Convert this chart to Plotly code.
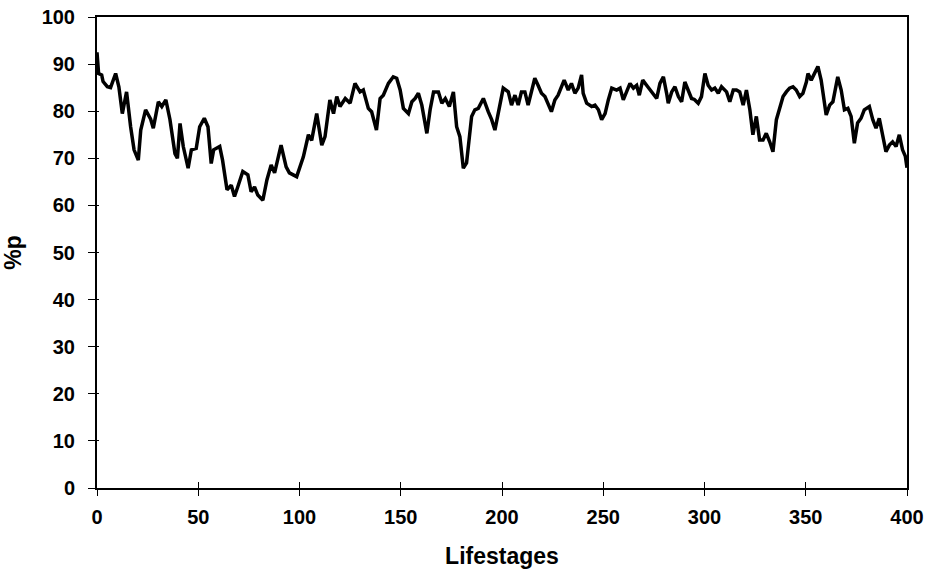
import plotly.graph_objects as go

lifestage = [0,0.8,2.3,3,5.1,6.7,9.2,10.8,12.5,14.6,16.6,18.3,20.4,21.6,24,25.7,26.5,27.8,30.3,32,34,36,38.5,39.7,41,42.6,45,46.6,49,50.7,53,54.8,56.4,57.6,60.6,62,64.2,66.3,67.9,69.5,72,74.5,76.1,77.8,79.4,81.9,83.9,86,87.7,90.9,93.4,95,98.6,101.9,104.4,106,108.5,111,112.6,115,116.8,118.4,120,122.6,125,127.4,129.9,131.5,134,135.6,138,139.8,141.4,143.9,146.3,148,149.7,151.3,153.8,155.5,157.1,158.7,160.4,162.9,164.5,166.2,168.6,170.3,172,174,176,177.6,179.2,180.9,182.5,185,186.6,188.3,190.8,193.2,194.9,196.5,198.1,200.6,203.1,204.7,206.4,208,209.6,211.3,212.9,214.5,216.2,217.8,219.5,221.2,222.8,224.4,226.1,227.7,229.4,230.7,232.7,234.3,236,237.6,239.3,240.1,241.8,244.3,245.9,247.6,249.2,250.9,252.5,254.2,256.6,258.3,259.9,261.6,263.2,264.9,266.5,267.8,269.5,271.4,273.1,274.7,276.4,278,279.7,281.3,282.1,283.8,285.4,287.1,288.7,290.3,292,293.6,295,296.9,298.5,300.2,301.8,303.5,305.1,306.8,308.4,310.9,312.5,314.2,315.8,317.4,319.1,320.7,322.4,323.9,325.6,327.2,328.9,330.5,332.2,333.8,335.5,337.1,338.8,340.4,342,343.7,345.3,347,348.6,350.3,351.1,352.7,354.3,356,357.6,359.3,360.1,361.8,363.4,365.8,367.5,369.1,370.8,372.4,374,375.6,377.3,378.9,381.4,383.1,384.7,386.3,388,389.6,391.3,392.9,394.6,396.2,397.8,399.2,400]
pct_p = [92.5,88,87.7,86.3,85.2,85,88,85.2,79.5,84.1,76.7,71.8,69.6,76,80.3,79,78.3,76.4,82,81,82.4,78.3,71,70,77.4,72.5,67.9,71.8,72.1,76.7,78.5,76.7,68.9,71.8,72.5,69.6,63.3,64.3,61.9,63.9,67.2,66.5,62.9,63.9,62.2,61.1,65.4,68.6,66.9,72.8,68.2,66.9,66.1,70.3,75,73.8,79.5,72.8,74.6,82.4,79.5,83.1,81,82.7,81.7,85.9,84.1,84.5,80.6,79.9,76,82.7,83.4,85.9,87.3,87,84.5,80.6,79.5,82,82.7,83.8,81.3,75.3,80.3,84.1,84.1,81.7,82.7,81,84.1,76.7,74.6,67.9,69,78.9,80.3,80.6,82.7,79.9,78.2,76,79.5,84.9,84.1,81.3,83.4,81.3,84.1,84.1,81.3,84.1,87,85.5,83.8,83.1,81.7,79.9,82.4,83.4,85.2,86.6,84.5,85.9,83.8,84.9,87.7,83.8,81.7,81,81.3,80.3,78.2,79.5,82.4,84.9,84.5,84.9,82.4,84.1,85.9,84.9,85.5,83.4,86.6,85.5,84.5,83.8,82.7,85.9,87.3,83.8,81.7,84.1,85.2,83.1,82,86.2,84.5,82.7,82.5,81.7,83.1,88,85.5,84.5,84.9,83.8,85.2,84.1,82,84.5,84.5,84.1,81.3,84.5,80.3,75,78.9,73.9,73.9,75.3,73.5,71.4,78.2,80.3,83.1,84.1,84.9,85.2,84.5,83.1,83.8,86.2,88,86.6,88,89.5,86.6,81.7,79.2,81.3,82,87.3,84.5,80.3,80.6,78.9,73.2,77.5,78.5,80.3,81,78.2,76.4,78.5,74.6,71.4,72.8,73.5,72.5,75,71.8,70.4,68]

x_ticks = [0, 50, 100, 150, 200, 250, 300, 350, 400]
y_ticks = [0, 10, 20, 30, 40, 50, 60, 70, 80, 90, 100]

FONT = "Liberation Sans"
tick_font = dict(family=FONT, size=20, color="black", weight="bold")
title_font = dict(family=FONT, size=23, color="black", weight="bold")

fig = go.Figure()
fig.add_trace(go.Scatter(x=lifestage, y=pct_p, mode="lines",
                         line=dict(color="black", width=3.5), showlegend=False,
                         hoverinfo="skip"))
# invisible trace for the overlay axes (inner half of crossing ticks)
fig.add_trace(go.Scatter(x=[0], y=[0], xaxis="x2", yaxis="y2", mode="markers",
                         marker=dict(opacity=0), showlegend=False, hoverinfo="skip"))

fig.update_layout(
    width=934, height=572,
    margin=dict(l=97, r=27, t=17, b=84),
    paper_bgcolor="white", plot_bgcolor="white",
    xaxis=dict(range=[0, 400], tickvals=x_ticks, ticktext=[str(v) for v in x_ticks],
               showline=True, linecolor="black", linewidth=2, mirror=True,
               ticks="outside", ticklen=6, tickwidth=1, tickcolor="black",
               showgrid=False, zeroline=False, tickfont=tick_font,
               ticklabelstandoff=4, automargin=False,
               title=dict(text="Lifestages", font=title_font, standoff=21)),
    yaxis=dict(range=[0, 100], tickvals=y_ticks, ticktext=[str(v) for v in y_ticks],
               showline=True, linecolor="black", linewidth=2, mirror=True,
               ticks="outside", ticklen=7, tickwidth=1, tickcolor="black",
               showgrid=False, zeroline=False, tickfont=tick_font,
               ticklabelstandoff=9, automargin=False,
               title=dict(text="%p", font=title_font, standoff=22)),
    xaxis2=dict(range=[0, 400], overlaying="x", tickvals=x_ticks, ticks="inside",
                ticklen=6, tickwidth=1, tickcolor="black", showticklabels=False,
                showgrid=False, zeroline=False, showline=False),
    yaxis2=dict(range=[0, 100], overlaying="y", tickvals=y_ticks, ticks="inside",
                ticklen=2, tickwidth=1, tickcolor="black", showticklabels=False,
                showgrid=False, zeroline=False, showline=False),
)

fig.write_html("out.html")
